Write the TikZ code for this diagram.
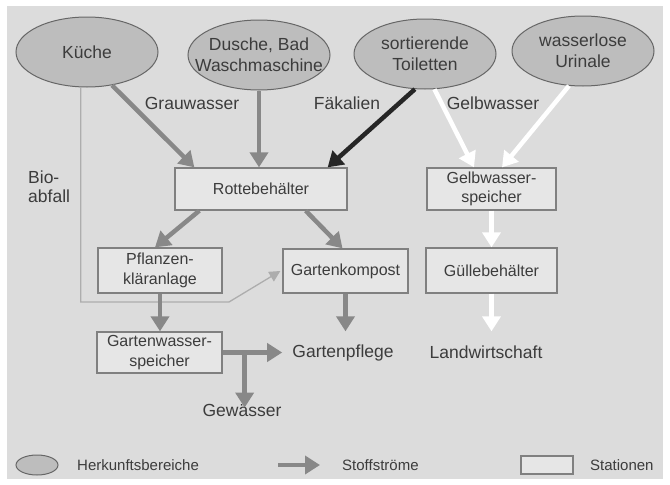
\documentclass[tikz,border=0pt]{standalone}
\usepackage{fontspec}
\setmainfont{Liberation Sans}
\usetikzlibrary{arrows.meta,shapes.geometric,calc}
\definecolor{bg}{HTML}{DCDCDC}
\definecolor{ellfill}{HTML}{BDBDBD}
\definecolor{boxfill}{HTML}{E6E6E6}
\definecolor{flowc}{HTML}{888888}
\definecolor{txt}{HTML}{3C3C3C}
\tikzset{
 src/.style={ellipse, draw=black!60, line width=1pt, fill=ellfill, minimum width=142pt, minimum height=70pt, inner sep=0pt},
 srctext/.style={align=center, font=\fontsize{17.5}{21}\selectfont, text=txt, inner sep=0pt},
 station/.style={draw=black!50, line width=1.3pt, fill=boxfill, align=center, inner sep=0pt, font=\fontsize{16}{19.5}\selectfont, text=txt},
 lbl/.style={font=\fontsize{17.5}{19}\selectfont, text=txt, inner sep=2pt},
 flow/.style={draw=flowc, line width=4.5pt, -{Triangle[length=15pt,width=18pt]}},
 blackflow/.style={flow, draw=black!85},
 whiteflow/.style={flow, draw=white},
 bioflow/.style={draw=black!32, line width=1.3pt, -{Triangle[length=11pt,width=11pt]}},
 legtext/.style={font=\fontsize{15}{17}\selectfont, text=txt, anchor=west, inner sep=0pt}
}
\begin{document}
\begin{tikzpicture}[x=1pt,y=-1pt]
\useasboundingbox (0,0) rectangle (670,485);
\fill[bg] (7,6) rectangle (663,479);

% sources
\node[src] (kueche) at (87,52) {};
\node[srctext] (kueche-t) at (kueche) {Küche};
\node[src] (dusche) at (259,55) {};
\node[srctext] (dusche-t) at (dusche) {Dusche, Bad\\Waschmaschine};
\node[src] (toil) at (425,54) {};
\node[srctext] (toil-t) at (toil) {sortierende\\Toiletten};
\node[src] (urin) at (583,51) {};
\node[srctext] (urin-t) at (urin) {wasserlose\\Urinale};

% stations
\node[station, minimum width=172pt, minimum height=42pt] (rotte) at (261,189) {Rottebehälter};
\node[station, minimum width=129pt, minimum height=42pt] (gelb) at (491.5,189) {Gelbwasser-\\speicher};
\node[station, minimum width=124pt, minimum height=45pt] (pflanz) at (160,270.5) {Pflanzen-\\kläranlage};
\node[station, minimum width=125pt, minimum height=44pt] (kompost) at (345.5,271) {Gartenkompost};
\node[station, minimum width=131pt, minimum height=45pt] (guelle) at (491.5,270.5) {Güllebehälter};
\node[station, minimum width=125pt, minimum height=41pt] (gwsp) at (159.5,352.5) {Gartenwasser-\\speicher};

% labels
\node[lbl] (grau) at (192,103) {Grauwasser};
\node[lbl] (faek) at (347,103) {Fäkalien};
\node[lbl] (gelbw) at (493,103) {Gelbwasser};
\node[lbl, align=left, anchor=west] (bio) at (26,187) {Bio-\\abfall};
\node[lbl] (pflege) at (343,352.5) {Gartenpflege};
\node[lbl] (landw) at (486,352.5) {Landwirtschaft};
\node[lbl] (gew) at (242,410) {Gewässer};

% flows
\coordinate (biocorner) at (229,302);
\draw[bioflow] (kueche.-100) |- (biocorner) -- ([xshift=-2pt]kompost.west);
\draw[flow] (kueche.-53) -- ([xshift=20pt]rotte.north west);
\draw[flow] (dusche.south) -- (dusche.south |- rotte.north);
\draw[blackflow] (toil.-106) -- ([xshift=-20pt]rotte.north east);
\draw[whiteflow] (toil.-75) -- ([xshift=-17.5pt]gelb.north);
\draw[whiteflow] (urin.-112) -- ([xshift=10.5pt]gelb.north);
\draw[flow] ([xshift=25pt]rotte.south west) -- ([xshift=-5pt]pflanz.north);
\draw[flow] ([xshift=-42pt]rotte.south east) -- ([xshift=-3pt]kompost.north);
\draw[flow] (pflanz.south) -- (pflanz.south |- gwsp.north);
\draw[flow] (kompost.south) -- (kompost.south |- gwsp.north);
\draw[whiteflow] (gelb.south) -- (guelle.north);
\draw[whiteflow] (guelle.south) -- (guelle.south |- gwsp.north);
\draw[flow, shorten >=8pt] (gwsp.east) -- (pflege.west);
\coordinate (br) at ([xshift=22pt]gwsp.east);
\draw[flow, shorten >=-6pt] (br) -- (br |- gew.north);

% legend
\node[src, minimum width=42pt, minimum height=20pt] (legell) at (37,465) {};
\node[legtext] (legell-t) at (77,465) {Herkunftsbereiche};
\coordinate (legarr-a) at (278,465);
\coordinate (legarr-b) at (320,465);
\draw[flow] (legarr-a) -- (legarr-b);
\node[legtext] (legarr-t) at (342,465) {Stoffströme};
\node[station, minimum width=52pt, minimum height=18pt] (legbox) at (547,465) {};
\node[legtext] (legbox-t) at (590,465) {Stationen};
\end{tikzpicture}
\end{document}
